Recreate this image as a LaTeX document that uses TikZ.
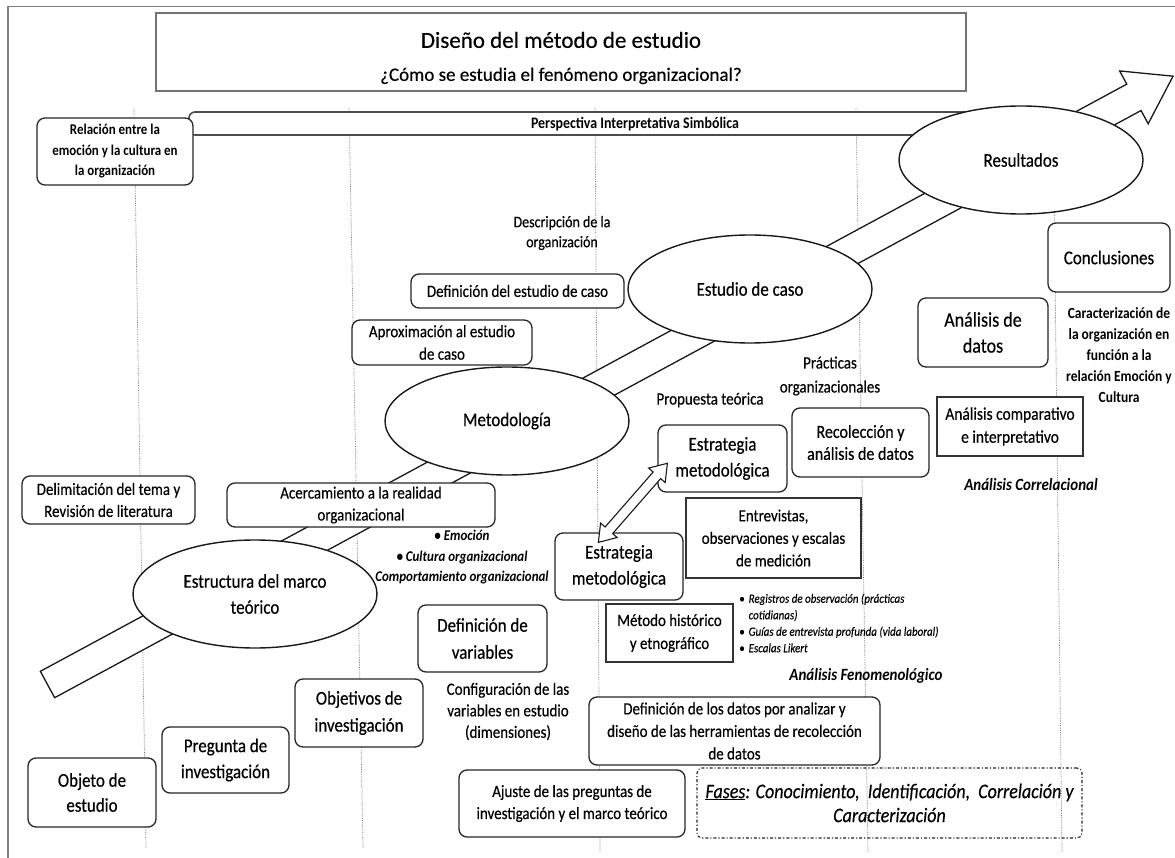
\documentclass[tikz,border=0pt]{standalone}
\usepackage{fontspec}
\setmainfont{Carlito}[FakeStretch=0.87,UprightFeatures={FakeBold=0.4},ItalicFeatures={FakeBold=0.3}]
\newfontfamily\plainfont{Carlito}[UprightFeatures={FakeBold=0.4}]
\usetikzlibrary{shapes.geometric}
\newcommand\fsz[2]{\fontsize{#1}{#2}\selectfont}
\begin{document}
\begin{tikzpicture}[x=1pt,y=-1pt,
  rbox/.style={draw=black!85,line width=1.3pt,rounded corners=8pt,fill=white,align=center,inner sep=0pt},
  sbox/.style={draw=black!80,line width=1.1pt,fill=white,align=center,inner sep=0pt},
  oval/.style={ellipse,draw=black!90,line width=1.4pt,fill=white,minimum width=244pt,minimum height=108pt,inner sep=0pt,align=center},
  txt/.style={align=center,inner sep=0pt},
  guide/.style={draw=black!55,densely dotted,line width=0.7pt},
  block/.style={draw=black!90,line width=1.3pt,fill=white,line join=miter}
]
\fill[white] (0,0) rectangle (1175,858);
\useasboundingbox (0,0) rectangle (1175,858);

% page frame
\draw[black!50,line width=1.6pt] (8,862) -- (8,6.5) -- (1180,6.5);

% column guides
\draw[guide] (134,108) -- (146,848);
\draw[guide] (349,108) -- (363,848);
\draw[guide] (595,108) -- (600,852);
\draw[guide] (856,108) -- (868,852);
\draw[guide] (1053,108) -- (1062,852);

% title
\node[draw=black!55,line width=1.3pt,fill=white,minimum width=810pt,minimum height=78pt,inner sep=0pt] (title) at (561,52) {};
\node[txt,font=\plainfont\fsz{23}{33}] (titletext) at (561,58) {Diseño del método de estudio\\{\fsz{19}{23}¿Cómo se estudia el fenómeno organizacional?}};

% perspective band
\node[draw=black!70,line width=1.6pt,fill=white,rounded corners=6pt,minimum width=811pt,minimum height=23pt,inner sep=0pt] (band) at (594.5,123.5) {};
\node[txt,font=\fsz{16}{18}\bfseries] (persp) at (635,124.5) {Perspectiva Interpretativa Simbólica};

% main progress arrow
\coordinate (tail) at (47.5,684.5);
\begin{scope}[shift={(tail)},rotate=28.39]
  \draw[block] (0,-15) -- (1235,-15) -- (1235,-30) -- (1279.5,0) -- (1235,30) -- (1235,15) -- (0,15) -- cycle;
\end{scope}

% stages and boxes
\node[rbox,minimum width=156pt,minimum height=67pt,font=\fsz{14.9}{20.5}\bfseries] (rel) at (115,151.5) {Relación entre la\\emoción y la cultura en\\la organización};
\node[oval,font=\fsz{19.5}{22}] (res) at (1021,160) {Resultados};
\node[txt,font=\fsz{16.1}{20}] (desc) at (562,233) {Descripción de la\\organización};
\node[rbox,minimum width=122pt,minimum height=69pt,font=\fsz{19.5}{22}] (concl) at (1109,257.5) {Conclusiones};
\node[oval,font=\fsz{19.5}{22}] (caso) at (750,289) {Estudio de caso};
\node[rbox,minimum width=213pt,minimum height=34pt,font=\fsz{17.2}{20}] (defcaso) at (517.5,291) {Definición del estudio de caso};
\node[rbox,minimum width=180pt,minimum height=45pt,font=\fsz{17.2}{22.5}] (aprox) at (442,342.5) {Aproximación al estudio\\de caso};
\node[rbox,minimum width=130pt,minimum height=69pt,font=\fsz{20.7}{26}] (adatos) at (983,332.5) {Análisis de\\datos};
\node[txt,font=\fsz{15.5}{21}\bfseries] (caract) at (1119,355) {Caracterización de\\la organización en\\función a la\\relación Emoción y\\Cultura};
\node[txt,font=\fsz{17.2}{24}] (pract) at (830,376) {Prácticas\\organizacionales};
\node[txt,font=\fsz{17.2}{20}] (prop) at (710,400) {Propuesta teórica};
\node[oval,font=\fsz{19.5}{22}] (metod) at (507,421) {Metodología};
\node[sbox,minimum width=146pt,minimum height=59pt,font=\fsz{17.8}{23}] (comp) at (1010,426.5) {Análisis comparativo\\e interpretativo};
\node[rbox,minimum width=137pt,minimum height=69pt,font=\fsz{18.4}{22}] (recol) at (860.5,442.5) {Recolección y\\análisis de datos};
\node[rbox,minimum width=129pt,minimum height=67pt,font=\fsz{19.5}{26}] (estA) at (722.5,458.5) {Estrategia\\metodológica};
\node[txt,font=\fsz{17.2}{20}\bfseries\itshape] (corr) at (1031,485) {Análisis Correlacional};
\node[rbox,minimum width=173pt,minimum height=48pt,font=\fsz{17.2}{22}] (delim) at (108.5,500) {Delimitación del tema y\\Revisión de literatura};
\node[rbox,minimum width=268pt,minimum height=44pt,font=\fsz{17.2}{22}] (acerc) at (361,505) {Acercamiento a la realidad\\organizacional};
\node[sbox,minimum width=175pt,minimum height=80pt,font=\fsz{17.2}{22.5}] (entrev) at (773.5,538) {Entrevistas,\\observaciones y escalas\\de medición};
\node[txt,font=\fsz{14.9}{20.5}\bfseries\itshape] (vars) at (462,557.5) {\textbullet\ Emoción\\\textbullet\ Cultura organizacional\\Comportamiento organizacional};
\node[rbox,minimum width=128pt,minimum height=67pt,font=\fsz{19.5}{26}] (estB) at (619,566.5) {Estrategia\\metodológica};
\node[oval,font=\fsz{19.5}{26}] (marco) at (255,594) {Estructura del marco\\teórico};
\node[sbox,minimum width=127pt,minimum height=58pt,font=\fsz{17.2}{23}] (hist) at (669.5,633) {Método histórico\\y etnográfico};
\node[inner sep=0pt,anchor=north west,font=\fsz{12.6}{16.5}\itshape] (tools) at (739,591) {\begin{tabular}{@{}l@{\hspace{4pt}}l@{}}\textbullet&Registros de observación (prácticas\\&cotidianas)\\\textbullet&Guías de entrevista profunda (vida laboral)\\\textbullet&Escalas Likert\end{tabular}};
\node[rbox,minimum width=129pt,minimum height=67pt,font=\fsz{19.5}{27}] (defvar) at (482.5,638.5) {Definición de\\variables};
\node[txt,font=\fsz{17.2}{20}\bfseries\itshape] (fen) at (866,676) {Análisis Fenomenológico};
\node[rbox,minimum width=128pt,minimum height=68pt,font=\fsz{19.5}{27}] (obj) at (359,713) {Objetivos de\\investigación};
\node[txt,font=\fsz{17.2}{21.5}] (config) at (508,711.5) {Configuración de las\\variables en estudio\\(dimensiones)};
\node[rbox,minimum width=291pt,minimum height=68pt,font=\fsz{17.2}{22.5}] (defdat) at (734.5,731) {Definición de los datos por analizar y\\diseño de las herramientas de recolección\\de datos};
\node[rbox,minimum width=127pt,minimum height=66pt,font=\fsz{19.5}{26}] (preg) at (225.5,760) {Pregunta de\\investigación};
\node[rbox,minimum width=128pt,minimum height=69pt,font=\fsz{19.5}{25}] (objeto) at (92,792.5) {Objeto de\\estudio};
\node[rbox,minimum width=226pt,minimum height=67pt,font=\fsz{17.2}{22}] (ajuste) at (572,803.5) {Ajuste de las preguntas de\\investigación y el marco teórico};
\node[draw=black!85,line width=1.1pt,dash dot,rounded corners=5pt,minimum width=385pt,minimum height=70pt,align=center,inner sep=0pt,font=\fsz{20.7}{24}\itshape] (fases) at (889.5,803) {\underline{Fases}: Conocimiento,\ \ Identificación,\ \ Correlación y\\Caracterización};

% two-way link between the strategy boxes
\coordinate (dl) at ([xshift=44pt,yshift=-10pt]estB.north west);
\coordinate (du) at ([xshift=10pt,yshift=-39pt]estA.north west);
\begin{scope}[shift={(dl)},rotate=48.87]
  \draw[block,line width=1.1pt] (0,0) -- (16,-11) -- (16,-5) -- (89,-5) -- (89,-11) -- (105,0) -- (89,11) -- (89,5) -- (16,5) -- (16,11) -- cycle;
\end{scope}
\end{tikzpicture}
\end{document}
